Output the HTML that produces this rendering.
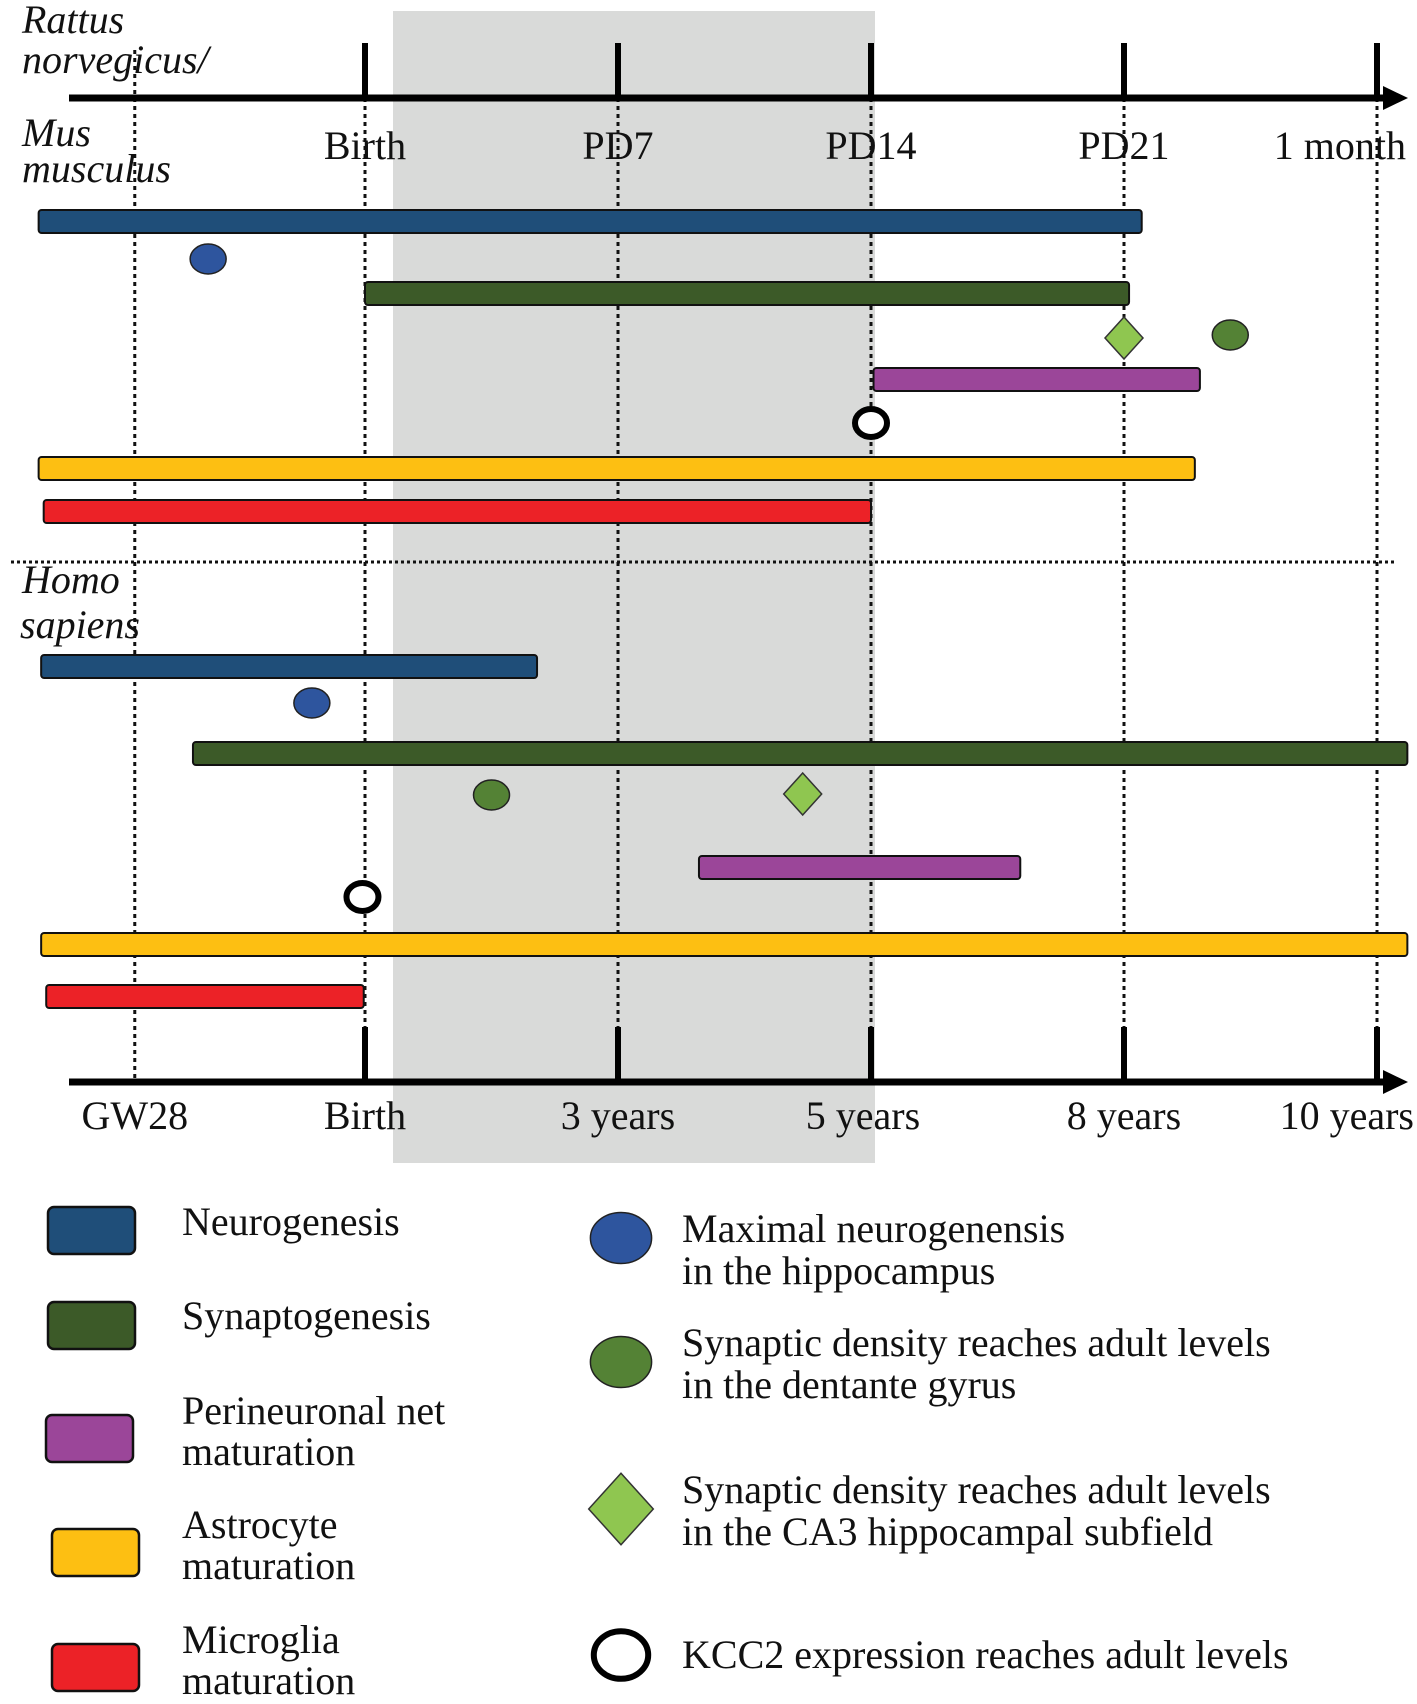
<!DOCTYPE html>
<html><head><meta charset="utf-8"><style>
html,body{margin:0;padding:0;background:#fff;}
svg{display:block;font-family:"Liberation Serif",serif;}
</style></head><body>
<svg id="chart" width="1417" height="1704" viewBox="0 0 1417 1704" xmlns="http://www.w3.org/2000/svg">
<rect x="393" y="11" width="482" height="1152" fill="#d9dad9"/>
<g id="grid"></g>
<g id="axes"></g>
<g id="marks"></g>
<g id="legend"></g>
</svg>
<script>
// ---- data (tick units: Birth=1, PD7/3y=2, PD14/5y=3, PD21/8y=4, 1 month/10y=5)
const topTickLabels = ["Birth","PD7","PD14","PD21","1 month"];
const bottomTickLabels = ["GW28","Birth","3 years","5 years","8 years","10 years"];
const tickValues = [1,2,3,4,5];
const gw28Value = 0.09;
const seriesNames = ["Neurogenesis","Synaptogenesis","Perineuronal net maturation","Astrocyte maturation","Microglia maturation"];
const ratBarStart = [-0.29, 1.0, 3.01, -0.29, -0.27];
const ratBarEnd   = [4.07, 4.02, 4.30, 4.28, 3.0];
const humanBarStart = [-0.28, 0.32, 2.32, -0.28, -0.26];
const humanBarEnd   = [1.68, 5.12, 3.59, 5.12, 0.995];
const markerNames = ["max-neurogenesis","synaptic-density-dg","synaptic-density-ca3","kcc2-adult"];
const ratMarkers = [0.38, 4.42, 4.0, 3.0];
const humanMarkers = [0.79, 1.50, 2.73, 0.99];

// ---- styles / layout
const barColors = ["#1f4e79","#3c5a28","#9b4699","#fdbf12","#ec2227"];
const markerFill = ["#2e559e","#548235","#8fc650","#ffffff"];
const ratBarY = [210,282,368,457,500];
const humanBarY = [655,742,856,933,985];
const ratMarkerY = [259,335,338,423];
const humanMarkerY = [703,795,794,897];
const barH = 23;
const FS = 40;
const x = v => 112 + 253*v;
const NS = "http://www.w3.org/2000/svg";
function mk(tag, attrs, parent){const e=document.createElementNS(NS,tag);for(const k in attrs)e.setAttribute(k,attrs[k]);parent.appendChild(e);return e;}
const grid=document.getElementById('grid'), axes=document.getElementById('axes'), marks=document.getElementById('marks'), legend=document.getElementById('legend');

[gw28Value].concat(tickValues).forEach((v,i)=>{
  const l=mk('line',{x1:x(v),x2:x(v),y1:50,y2:1082,stroke:'#111','stroke-width':3,'stroke-dasharray':'4 4'},grid);
  
  
});
const sep=mk('line',{x1:11,x2:1395,y1:562,y2:562,stroke:'#111','stroke-width':3,'stroke-dasharray':'3 3'},grid);



function axis(y, name){
  const a=mk('line',{x1:69,x2:1390,y1:y,y2:y,stroke:'#000','stroke-width':7},axes);
  
  
  const ar=mk('polygon',{points:`1383,${y-12} 1408,${y} 1383,${y+12}`,fill:'#000'},axes);
  
  
  tickValues.forEach((v,i)=>{
    const t=mk('line',{x1:x(v),x2:x(v),y1:y-55,y2:y,stroke:'#000','stroke-width':6},axes);
    
    
  });
}
axis(98,'rodent-axis');
axis(1082,'human-axis');
topTickLabels.forEach((s,i)=>{
  const last = i===topTickLabels.length-1;
  const t=mk('text',{x:last?1406:x(tickValues[i]),y:159,'text-anchor':last?'end':'middle','font-size':FS,fill:'#111'},axes);
  t.textContent=s;
  
  
});
const bottomVals=[gw28Value].concat(tickValues);
const bottomShift=[0,0,0,-8,0,0];
bottomTickLabels.forEach((s,i)=>{
  const last = i===bottomTickLabels.length-1;
  const t=mk('text',{x:last?1414:x(bottomVals[i])+bottomShift[i],y:1129,'text-anchor':last?'end':'middle','font-size':FS,fill:'#111'},axes);
  t.textContent=s;
  
  
});
[["Rattus",22,33],["norvegicus/",22,73],["Mus",22,146],["musculus",22,182],["Homo",22,593],["sapiens",20,638]].forEach(([s,px,py])=>{
  const t=mk('text',{x:px,y:py,'font-size':FS,'font-style':'italic',fill:'#111'},axes);
  t.textContent=s;
  
  
});

function bars(starts, ends, ys, prefix){
  starts.forEach((s,i)=>{
    const r=mk('rect',{x:x(s),y:ys[i],width:x(ends[i])-x(s),height:barH,rx:3,fill:barColors[i],stroke:'#111','stroke-width':2},marks);
    
    
  });
}
bars(ratBarStart, ratBarEnd, ratBarY, 'rodent');
bars(humanBarStart, humanBarEnd, humanBarY, 'human');

function marker(kind, cx, cy, parent, big){
  const s=big?1.7:1;
  let e;
  if(kind===2){
    e=mk('polygon',{points:`${cx},${cy-21*s} ${cx+20*s*0.95},${cy} ${cx},${cy+21*s} ${cx-20*s*0.95},${cy}`,fill:markerFill[2],stroke:'#333','stroke-width':1.5},parent);
  } else if(kind===3){
    e=mk('ellipse',{cx:cx,cy:cy,rx:16*s,ry:14*s,fill:'#fff',stroke:'#000','stroke-width':6},parent);
  } else {
    e=mk('ellipse',{cx:cx,cy:cy,rx:18*s,ry:15*s,fill:markerFill[kind],stroke:'#222','stroke-width':1.5},parent);
  }
  return e;
}
ratMarkers.forEach((v,i)=>{
  const e=marker(i,x(v),ratMarkerY[i],marks,false);
  
  
});
humanMarkers.forEach((v,i)=>{
  const e=marker(i,x(v),humanMarkerY[i],marks,false);
  
  
});

const swY=[1207,1302,1415,1529,1644];
const swX=[48,48,46,52,52];
const legText=[["Neurogenesis"],["Synaptogenesis"],["Perineuronal net","maturation"],["Astrocyte","maturation"],["Microglia","maturation"]];
const legTextY=[[1235],[1329],[1424,1465],[1538,1579],[1653,1694]];
legText.forEach((lines,i)=>{
  const r=mk('rect',{x:swX[i],y:swY[i],width:87,height:47,rx:6,fill:barColors[i],stroke:'#111','stroke-width':2.5},legend);
  
  
  lines.forEach((s,j)=>{
    const t=mk('text',{x:182,y:legTextY[i][j],'font-size':FS,fill:'#111'},legend);
    t.textContent=s;
    
    
  });
});
const mY=[1238,1362,1509,1655];
const mText=[["Maximal neurogenensis","in the hippocampus"],["Synaptic density reaches adult levels","in the dentante gyrus"],["Synaptic density reaches adult levels","in the CA3 hippocampal subfield"],["KCC2 expression reaches adult levels"]];
const mTextY=[[1242,1284],[1356,1398],[1503,1545],[1668]];
mText.forEach((lines,i)=>{
  const e=marker(i,621,mY[i],legend,true);
  
  
  lines.forEach((s,j)=>{
    const t=mk('text',{x:682,y:mTextY[i][j],'font-size':FS,fill:'#111'},legend);
    t.textContent=s;
    
    
  });
});
</script>
</body></html>
